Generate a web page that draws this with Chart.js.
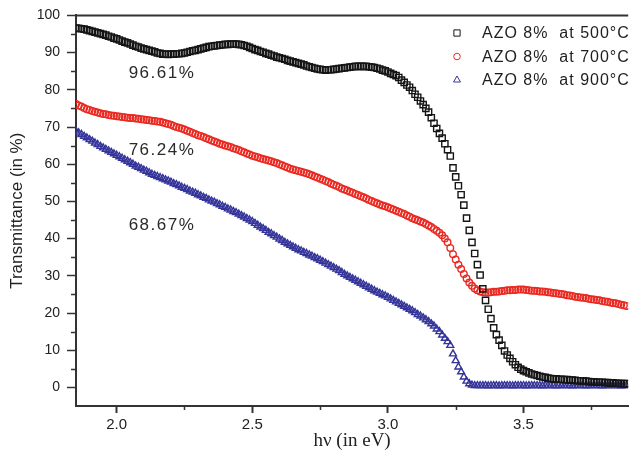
<!DOCTYPE html>
<html lang="en">

<head>
    <meta charset="UTF-8">
    <title>AZO transmittance</title>
    <script src="https://cdn.jsdelivr.net/npm/chart.js"></script>
    <style>
        body { margin: 0; background: #fff; }
        canvas { display: block; }
    </style>
</head>

<body>
    <canvas id="transChart" width="634" height="454"></canvas>

    <script>
        // photon energy (eV), shared by the three samples
        const energia = [
            1.85, 1.86, 1.87, 1.88, 1.89, 1.90, 1.91, 1.92, 1.93, 1.94,
            1.95, 1.96, 1.97, 1.98, 1.99, 2.00, 2.01, 2.02, 2.03, 2.04,
            2.05, 2.06, 2.07, 2.08, 2.09, 2.10, 2.11, 2.12, 2.13, 2.14,
            2.15, 2.16, 2.17, 2.18, 2.19, 2.20, 2.21, 2.22, 2.23, 2.24,
            2.25, 2.26, 2.27, 2.28, 2.29, 2.30, 2.31, 2.32, 2.33, 2.34,
            2.35, 2.36, 2.37, 2.38, 2.39, 2.40, 2.41, 2.42, 2.43, 2.44,
            2.45, 2.46, 2.47, 2.48, 2.49, 2.50, 2.51, 2.52, 2.53, 2.54,
            2.55, 2.56, 2.57, 2.58, 2.59, 2.60, 2.61, 2.62, 2.63, 2.64,
            2.65, 2.66, 2.67, 2.68, 2.69, 2.70, 2.71, 2.72, 2.73, 2.74,
            2.75, 2.76, 2.77, 2.78, 2.79, 2.80, 2.81, 2.82, 2.83, 2.84,
            2.85, 2.86, 2.87, 2.88, 2.89, 2.90, 2.91, 2.92, 2.93, 2.94,
            2.95, 2.96, 2.97, 2.98, 2.99, 3.00, 3.01, 3.02, 3.03, 3.04,
            3.05, 3.06, 3.07, 3.08, 3.09, 3.10, 3.11, 3.12, 3.13, 3.14,
            3.15, 3.16, 3.17, 3.18, 3.19, 3.20, 3.21, 3.22, 3.23, 3.24,
            3.25, 3.26, 3.27, 3.28, 3.29, 3.30, 3.31, 3.32, 3.33, 3.34,
            3.35, 3.36, 3.37, 3.38, 3.39, 3.40, 3.41, 3.42, 3.43, 3.44,
            3.45, 3.46, 3.47, 3.48, 3.49, 3.50, 3.51, 3.52, 3.53, 3.54,
            3.55, 3.56, 3.57, 3.58, 3.59, 3.60, 3.61, 3.62, 3.63, 3.64,
            3.65, 3.66, 3.67, 3.68, 3.69, 3.70, 3.71, 3.72, 3.73, 3.74,
            3.75, 3.76, 3.77, 3.78, 3.79, 3.80, 3.81, 3.82, 3.83, 3.84,
            3.85, 3.86, 3.87, 3.88
        ];

        // transmittance (%) at 500 C
        const t500 = [
            96.6, 96.5, 96.4, 96.3, 96.1, 95.9, 95.7, 95.5, 95.3, 95.1,
            94.9, 94.7, 94.4, 94.2, 93.9, 93.7, 93.4, 93.1, 92.8, 92.6,
            92.3, 92.0, 91.7, 91.5, 91.2, 91.0, 90.8, 90.6, 90.4, 90.2,
            89.9, 89.8, 89.6, 89.6, 89.5, 89.6, 89.6, 89.7, 89.7, 89.8,
            89.9, 90.1, 90.3, 90.5, 90.6, 90.8, 91.0, 91.2, 91.4, 91.6,
            91.7, 91.8, 91.9, 92.0, 92.1, 92.2, 92.2, 92.3, 92.3, 92.3,
            92.2, 92.1, 91.9, 91.7, 91.4, 91.1, 90.8, 90.6, 90.3, 90.1,
            89.8, 89.6, 89.3, 89.1, 88.8, 88.6, 88.4, 88.2, 87.9, 87.7,
            87.5, 87.3, 87.1, 86.9, 86.7, 86.4, 86.2, 86.0, 85.8, 85.6,
            85.5, 85.4, 85.3, 85.4, 85.4, 85.5, 85.6, 85.7, 85.8, 85.9,
            86.0, 86.1, 86.2, 86.3, 86.3, 86.3, 86.3, 86.3, 86.2, 86.1,
            86.0, 85.8, 85.6, 85.3, 85.1, 84.8, 84.4, 84.1, 83.8, 83.3,
            82.6, 82.0, 81.3, 80.7, 79.8, 78.8, 78.0, 77.0, 76.0, 75.0,
            74.0, 72.5, 71.0, 69.6, 68.3, 67.0, 65.5, 63.9, 62.2, 59.0,
            56.6, 54.2, 51.8, 49.0, 45.5, 42.2, 39.0, 36.0, 33.0, 30.2,
            26.5, 23.4, 21.0, 18.5, 16.0, 14.2, 12.7, 11.3, 9.8, 8.7,
            7.8, 6.9, 6.1, 5.4, 4.9, 4.5, 4.2, 3.9, 3.6, 3.4,
            3.2, 3.0, 2.8, 2.7, 2.5, 2.4, 2.3, 2.3, 2.2, 2.2,
            2.1, 2.1, 2.0, 2.0, 1.9, 1.8, 1.8, 1.7, 1.7, 1.6,
            1.5, 1.5, 1.4, 1.4, 1.4, 1.3, 1.3, 1.2, 1.2, 1.1,
            1.1, 1.0, 1.0, 1.0
        ];

        // transmittance (%) at 700 C
        const t700 = [
            76.2, 75.8, 75.5, 75.1, 74.8, 74.6, 74.3, 74.1, 73.9, 73.7,
            73.5, 73.4, 73.2, 73.1, 73.0, 72.9, 72.8, 72.7, 72.6, 72.5,
            72.4, 72.4, 72.3, 72.2, 72.1, 72.0, 71.9, 71.8, 71.7, 71.6,
            71.5, 71.4, 71.2, 71.0, 70.8, 70.6, 70.3, 70.0, 69.8, 69.6,
            69.3, 69.0, 68.7, 68.4, 68.1, 67.8, 67.6, 67.3, 67.0, 66.7,
            66.4, 66.1, 65.8, 65.5, 65.3, 65.0, 64.8, 64.6, 64.3, 64.1,
            63.8, 63.5, 63.2, 62.9, 62.6, 62.3, 62.1, 61.9, 61.6, 61.4,
            61.2, 61.0, 60.8, 60.5, 60.3, 60.0, 59.7, 59.4, 59.1, 58.8,
            58.6, 58.4, 58.2, 58.0, 57.8, 57.6, 57.3, 57.0, 56.7, 56.4,
            56.1, 55.8, 55.5, 55.2, 54.8, 54.5, 54.2, 53.9, 53.5, 53.2,
            52.9, 52.6, 52.3, 52.0, 51.7, 51.4, 51.1, 50.8, 50.4, 50.1,
            49.8, 49.5, 49.2, 48.9, 48.7, 48.4, 48.1, 47.8, 47.5, 47.2,
            46.9, 46.6, 46.2, 45.9, 45.5, 45.2, 44.9, 44.6, 44.3, 43.9,
            43.5, 43.1, 42.6, 42.1, 41.6, 40.9, 40.0, 39.0, 37.5, 35.8,
            34.4, 33.0, 31.8, 30.5, 29.3, 28.2, 27.3, 26.6, 26.1, 25.8,
            25.6, 25.5, 25.5, 25.6, 25.7, 25.7, 25.8, 25.9, 26.0, 26.1,
            26.1, 26.2, 26.2, 26.3, 26.3, 26.3, 26.2, 26.1, 26.0, 26.0,
            25.9, 25.8, 25.8, 25.7, 25.6, 25.5, 25.4, 25.3, 25.2, 25.1,
            25.0, 24.8, 24.7, 24.6, 24.4, 24.3, 24.2, 24.1, 24.0, 23.8,
            23.7, 23.6, 23.5, 23.4, 23.2, 23.1, 23.0, 22.8, 22.7, 22.6,
            22.4, 22.2, 22.1, 21.9
        ];

        // transmittance (%) at 900 C
        const t900 = [
            68.9, 68.4, 68.0, 67.5, 67.1, 66.6, 66.2, 65.7, 65.3, 64.8,
            64.4, 64.0, 63.6, 63.2, 62.8, 62.4, 62.0, 61.6, 61.2, 60.8,
            60.4, 60.0, 59.5, 59.2, 58.8, 58.4, 58.1, 57.7, 57.3, 57.0,
            56.7, 56.4, 56.1, 55.8, 55.5, 55.2, 54.8, 54.5, 54.2, 53.8,
            53.5, 53.2, 52.8, 52.5, 52.2, 51.8, 51.5, 51.1, 50.8, 50.4,
            50.1, 49.8, 49.4, 49.1, 48.7, 48.4, 48.0, 47.7, 47.3, 47.0,
            46.6, 46.2, 45.8, 45.4, 45.0, 44.6, 44.1, 43.6, 43.1, 42.7,
            42.2, 41.7, 41.3, 40.8, 40.4, 39.9, 39.5, 39.0, 38.6, 38.2,
            37.8, 37.4, 37.0, 36.7, 36.3, 36.0, 35.6, 35.3, 34.9, 34.6,
            34.2, 33.8, 33.4, 33.0, 32.6, 32.2, 31.8, 31.4, 30.9, 30.4,
            30.0, 29.6, 29.2, 28.8, 28.4, 28.0, 27.6, 27.2, 26.8, 26.4,
            26.0, 25.6, 25.3, 24.9, 24.6, 24.2, 23.8, 23.4, 23.0, 22.6,
            22.2, 21.8, 21.4, 21.0, 20.6, 20.1, 19.6, 19.2, 18.7, 18.2,
            17.7, 17.1, 16.5, 15.7, 15.0, 14.1, 13.2, 12.3, 11.3, 9.0,
            7.2, 5.5, 4.2, 2.8, 1.7, 1.0, 0.6, 0.5, 0.5, 0.5,
            0.5, 0.5, 0.4, 0.5, 0.5, 0.5, 0.4, 0.5, 0.5, 0.5,
            0.5, 0.4, 0.5, 0.5, 0.5, 0.5, 0.4, 0.5, 0.5, 0.5,
            0.5, 0.5, 0.4, 0.5, 0.5, 0.5, 0.5, 0.4, 0.5, 0.5,
            0.5, 0.5, 0.5, 0.4, 0.5, 0.5, 0.5, 0.5, 0.4, 0.5,
            0.5, 0.5, 0.5, 0.5, 0.4, 0.5, 0.5, 0.5, 0.5, 0.5,
            0.5, 0.4, 0.5, 0.5
        ];

        const nomes = ['AZO 8%  at 500°C', 'AZO 8%  at 700°C', 'AZO 8%  at 900°C'];

        // ticks
        const xTicks = [2.0, 2.5, 3.0, 3.5];
        const xTickLabels = ['2.0', '2.5', '3.0', '3.5'];
        const xMinor = [2.25, 2.75, 3.25, 3.75];
        const yTicks = [0, 10, 20, 30, 40, 50, 60, 70, 80, 90, 100];
        const yMinor = [5, 15, 25, 35, 45, 55, 65, 75, 85, 95];

        // average transmittance notes (energy, % position)
        const notas = ['96.61%', '76.24%', '68.67%'];
        const notasX = [2.167, 2.167, 2.167];
        const notasY = [84.4, 63.6, 43.7];

        function pontos(ys) {
            return energia.map(function (e, i) { return { x: e, y: ys[i] }; });
        }

        // minor ticks, top frame line, notes and legend
        const extras = {
            id: 'extras',
            afterDraw(chart) {
                const ctx = chart.ctx;
                const area = chart.chartArea;
                const sx = chart.scales.x;
                const sy = chart.scales.y;
                ctx.save();
                ctx.strokeStyle = '#333';
                ctx.lineWidth = 1.5;
                ctx.beginPath();
                xMinor.forEach(function (v) {
                    const px = Math.round(sx.getPixelForValue(v)) + 0.5;
                    ctx.moveTo(px, area.bottom);
                    ctx.lineTo(px, area.bottom + 4);
                });
                yMinor.forEach(function (v) {
                    const py = Math.round(sy.getPixelForValue(v)) + 0.5;
                    ctx.moveTo(area.left, py);
                    ctx.lineTo(area.left - 5, py);
                });
                ctx.stroke();

                ctx.lineWidth = 2;
                ctx.beginPath();
                ctx.moveTo(area.left - 1, area.top);
                ctx.lineTo(area.right, area.top);
                ctx.stroke();

                ctx.fillStyle = '#2a2a2a';
                ctx.font = '17px Arial, "Liberation Sans", sans-serif';
                ctx.letterSpacing = '1.5px';
                ctx.textAlign = 'center';
                ctx.textBaseline = 'middle';
                notas.forEach(function (t, i) {
                    ctx.fillText(t, sx.getPixelForValue(notasX[i]), sy.getPixelForValue(notasY[i]));
                });

                // legend
                ctx.font = '16px Arial, "Liberation Sans", sans-serif';
                ctx.letterSpacing = '1px';
                ctx.textAlign = 'left';
                chart.data.datasets.forEach(function (ds, i) {
                    const ly = 33 + i * 23.5;
                    if (Chart.helpers && Chart.helpers.drawPoint) {
                        ctx.strokeStyle = ds.borderColor;
                        ctx.fillStyle = 'rgba(0,0,0,0)';
                        ctx.lineWidth = 1;
                        Chart.helpers.drawPoint(ctx, {
                            pointStyle: ds.pointStyle,
                            radius: ds.pointRadius,
                            borderWidth: 1,
                            rotation: 0
                        }, 457, ly);
                    }
                    ctx.fillStyle = '#1e1e1e';
                    ctx.fillText(ds.label, 482, ly + 1);
                });
                ctx.restore();
            }
        };

        const grafico = new Chart(document.getElementById('transChart'), {
            type: 'scatter',
            data: {
                datasets: [
                    {
                        label: nomes[0],
                        data: pontos(t500),
                        pointStyle: 'rect',
                        pointRadius: 4.4,
                        borderColor: '#151515',
                        backgroundColor: 'rgba(0,0,0,0)',
                        borderWidth: 1.4
                    },
                    {
                        label: nomes[1],
                        data: pontos(t700),
                        pointStyle: 'circle',
                        pointRadius: 3.3,
                        borderColor: '#ea2a22',
                        backgroundColor: 'rgba(0,0,0,0)',
                        borderWidth: 1.4
                    },
                    {
                        label: nomes[2],
                        data: pontos(t900),
                        pointStyle: 'triangle',
                        pointRadius: 4,
                        borderColor: '#34349a',
                        backgroundColor: 'rgba(0,0,0,0)',
                        borderWidth: 1.4
                    }
                ]
            },
            options: {
                responsive: false,
                animation: false,
                devicePixelRatio: 1,
                layout: { padding: { top: 14, right: 0, left: 0, bottom: 0 } },
                plugins: {
                    legend: { display: false },
                    tooltip: { enabled: false }
                },
                scales: {
                    x: {
                        type: 'linear',
                        min: 1.85,
                        max: 3.886,
                        afterFit: function (s) { s.height = 48; },
                        afterBuildTicks: function (s) {
                            s.ticks = xTicks.map(function (v) { return { value: v }; });
                        },
                        ticks: {
                            color: '#222',
                            font: { family: 'Arial, "Liberation Sans", sans-serif', size: 15 },
                            padding: 3,
                            maxRotation: 0,
                            callback: function (v, i) { return xTickLabels[i]; }
                        },
                        grid: {
                            drawOnChartArea: false,
                            drawTicks: true,
                            tickLength: 7,
                            tickColor: '#333',
                            tickWidth: 2
                        },
                        border: { display: true, color: '#333', width: 2 },
                        title: {
                            display: true,
                            text: 'hν (in eV)',
                            color: '#222',
                            font: { family: '"Liberation Serif", "Times New Roman", serif', size: 19 },
                            padding: { top: 0, bottom: 2 }
                        }
                    },
                    y: {
                        min: -5,
                        max: 100,
                        afterFit: function (s) { s.width = 76; },
                        afterBuildTicks: function (s) {
                            s.ticks = yTicks.map(function (v) { return { value: v }; });
                        },
                        ticks: {
                            color: '#222',
                            font: { family: 'Arial, "Liberation Sans", sans-serif', size: 14 },
                            padding: 7
                        },
                        grid: {
                            drawOnChartArea: false,
                            drawTicks: true,
                            tickLength: 9,
                            tickColor: '#333',
                            tickWidth: 1.5
                        },
                        border: { display: true, color: '#333', width: 2 },
                        title: {
                            display: true,
                            text: 'Transmittance (in %)',
                            color: '#222',
                            font: { family: 'Arial, "Liberation Sans", sans-serif', size: 17 },
                            padding: { top: 7, bottom: 0 }
                        }
                    }
                }
            },
            plugins: [extras]
        });
    </script>
</body>

</html>
